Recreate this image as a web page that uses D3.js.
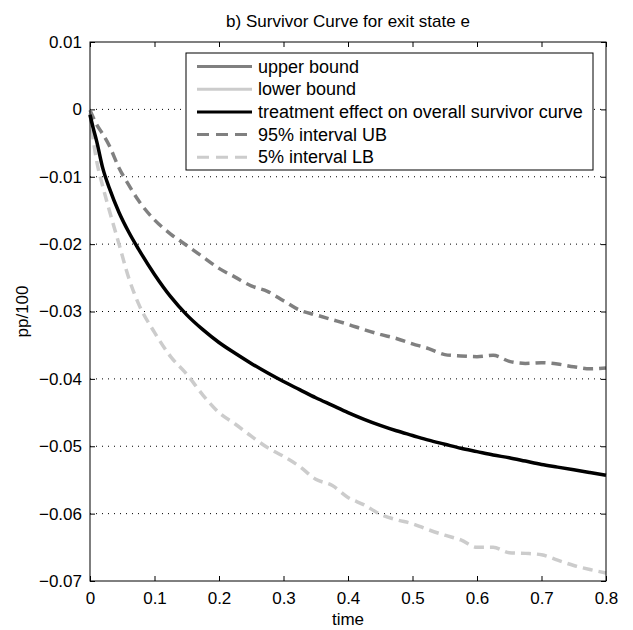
<!DOCTYPE html>
<html>
<head>
<meta charset="utf-8">
<script src="https://cdn.jsdelivr.net/npm/d3@7"></script>
<style>
	body { margin: 0; background: #fff; }
	text { font-family: "Liberation Sans", Arial, sans-serif; }
</style>
</head>
<body>
<script>
// time grid shared by all series
const times = [0, 0.005, 0.01, 0.02, 0.03, 0.045, 0.06, 0.075, 0.1, 0.125, 0.15, 0.175, 0.2, 0.225, 0.25, 0.275,
	0.3, 0.325, 0.35, 0.375, 0.4, 0.425, 0.45, 0.475, 0.5, 0.525, 0.55, 0.575, 0.6, 0.625, 0.65, 0.675,
	0.7, 0.725, 0.75, 0.775, 0.8];

// treatment effect on overall survivor curve
const effect = [-0.0008, -0.0028, -0.0046, -0.0088, -0.0117, -0.0153, -0.0182, -0.0207, -0.0245, -0.0278, -0.0305, -0.0327,
	-0.0346, -0.0362, -0.0377, -0.0391, -0.0404, -0.0416, -0.0428, -0.0439, -0.0450, -0.0460, -0.0469, -0.0477,
	-0.0484, -0.0491, -0.0497, -0.0503, -0.0508, -0.0513, -0.0517, -0.0522, -0.0527, -0.0531, -0.0535, -0.0539, -0.0543];

// 95% interval UB
const upper95 = [-0.0001, -0.0012, -0.0022, -0.0037, -0.0054, -0.0087, -0.0112, -0.0135, -0.0164, -0.0185, -0.0202, -0.0219,
	-0.0236, -0.0249, -0.0262, -0.0270, -0.0284, -0.0298, -0.0305, -0.0312, -0.0319, -0.0327, -0.0334, -0.0340,
	-0.0348, -0.0355, -0.0364, -0.0366, -0.0367, -0.0365, -0.0374, -0.0377, -0.0376, -0.0378, -0.0382, -0.0385, -0.0384];

// 5% interval LB
const lower5 = [-0.0006, -0.0045, -0.0075, -0.0115, -0.0150, -0.0200, -0.0250, -0.0288, -0.0331, -0.0367, -0.0393, -0.0424,
	-0.0450, -0.0467, -0.0485, -0.0502, -0.0515, -0.0530, -0.0549, -0.0558, -0.0576, -0.0587, -0.0601, -0.0609,
	-0.0615, -0.0624, -0.0632, -0.0639, -0.0650, -0.0650, -0.0658, -0.0659, -0.0661, -0.0669, -0.0677, -0.0683, -0.0688];

const xTicks = [0, 0.1, 0.2, 0.3, 0.4, 0.5, 0.6, 0.7, 0.8];
const yTicks = [0.01, 0, -0.01, -0.02, -0.03, -0.04, -0.05, -0.06, -0.07];

const legendLabels = ["upper bound", "lower bound", "treatment effect on overall survivor curve", "95% interval UB", "5% interval LB"];
const legendColors = ["#808080", "#cccccc", "#000000", "#808080", "#cccccc"];
const legendDashed = [false, false, false, true, true];

const titleText = "b) Survivor Curve for exit state e";

// plot box
const margin = { top: 42, right: 27, bottom: 49, left: 90 },
	width = 633 - margin.left - margin.right,
	height = 630 - margin.top - margin.bottom;

const svg = d3.select("body").append("svg")
	.attr("width", 633)
	.attr("height", 630);

const g = svg.append("g")
	.attr("transform", "translate(" + margin.left + "," + margin.top + ")");

const x = d3.scaleLinear().domain([0, 0.8]).range([0, width]);
const y = d3.scaleLinear().domain([-0.07, 0.01]).range([height, 0]);

// dotted horizontal grid
g.append("g")
	.selectAll("line")
	.data(yTicks.filter(d => d < 0.01 && d > -0.07))
	.enter().append("line")
	.attr("x1", 0)
	.attr("x2", width)
	.attr("y1", d => y(d))
	.attr("y2", d => y(d))
	.attr("stroke", "#000")
	.attr("stroke-width", 1)
	.attr("stroke-dasharray", "1,5");

// axes, ticks pointing inward like matlab
const fmt = d => d === 0 ? "0" : d3.format("")(d).replace("-", "\u2212");

g.append("g")
	.attr("transform", "translate(0," + height + ")")
	.call(d3.axisBottom(x).tickValues(xTicks).tickSizeInner(-5).tickSizeOuter(0).tickPadding(11).tickFormat(fmt));

g.append("g")
	.call(d3.axisLeft(y).tickValues(yTicks).tickSizeInner(-5).tickSizeOuter(0).tickPadding(8).tickFormat(fmt));

g.append("g")
	.call(d3.axisTop(x).tickValues(xTicks).tickSizeInner(-5).tickSizeOuter(0).tickFormat(""));

g.append("g")
	.attr("transform", "translate(" + width + ",0)")
	.call(d3.axisRight(y).tickValues(yTicks).tickSizeInner(-5).tickSizeOuter(0).tickFormat(""));

g.selectAll(".domain").remove();
g.selectAll(".tick line").attr("stroke", "#000");
g.selectAll(".tick text")
	.attr("fill", "#000")
	.style("font-size", "17px")
	.style("font-family", "'Liberation Sans', Arial, sans-serif");

// series lines
const line = vals => d3.line()
	.x((d, i) => x(times[i]))
	.y(d => y(d))
	.curve(d3.curveMonotoneX)(vals);

g.append("path")
	.attr("d", line(lower5))
	.attr("fill", "none")
	.attr("stroke", "#cccccc")
	.attr("stroke-width", 3.5)
	.attr("stroke-dasharray", "10,6");

g.append("path")
	.attr("d", line(upper95))
	.attr("fill", "none")
	.attr("stroke", "#808080")
	.attr("stroke-width", 3.5)
	.attr("stroke-dasharray", "10,6");

g.append("path")
	.attr("d", line(effect))
	.attr("fill", "none")
	.attr("stroke", "#000")
	.attr("stroke-width", 3.5);

// box around plot
g.append("rect")
	.attr("width", width)
	.attr("height", height)
	.attr("fill", "none")
	.attr("stroke", "#000")
	.attr("stroke-width", 1);

// legend
const legend = svg.append("g").attr("transform", "translate(186,53)");

legend.append("rect")
	.attr("width", 407)
	.attr("height", 117)
	.attr("fill", "#fff")
	.attr("stroke", "#000")
	.attr("stroke-width", 1);

legendLabels.forEach((lab, i) => {
	const ly = 13.5 + i * 22.7;
	legend.append("line")
		.attr("x1", 11)
		.attr("x2", 66)
		.attr("y1", ly)
		.attr("y2", ly)
		.attr("stroke", legendColors[i])
		.attr("stroke-width", 3)
		.attr("stroke-dasharray", legendDashed[i] ? "12,7" : null);
	legend.append("text")
		.attr("x", 72)
		.attr("y", ly + 6)
		.style("font-size", "18px")
		.text(lab);
});

// title and axis labels
svg.append("text")
	.attr("x", margin.left + width / 2)
	.attr("y", 27)
	.attr("text-anchor", "middle")
	.style("font-size", "17px")
	.text(titleText);

svg.append("text")
	.attr("x", margin.left + width / 2)
	.attr("y", 625)
	.attr("text-anchor", "middle")
	.style("font-size", "17px")
	.text("time");

svg.append("text")
	.attr("transform", "translate(28," + (margin.top + height / 2) + ") rotate(-90)")
	.attr("text-anchor", "middle")
	.style("font-size", "17px")
	.text("pp/100");
</script>
</body>
</html>
